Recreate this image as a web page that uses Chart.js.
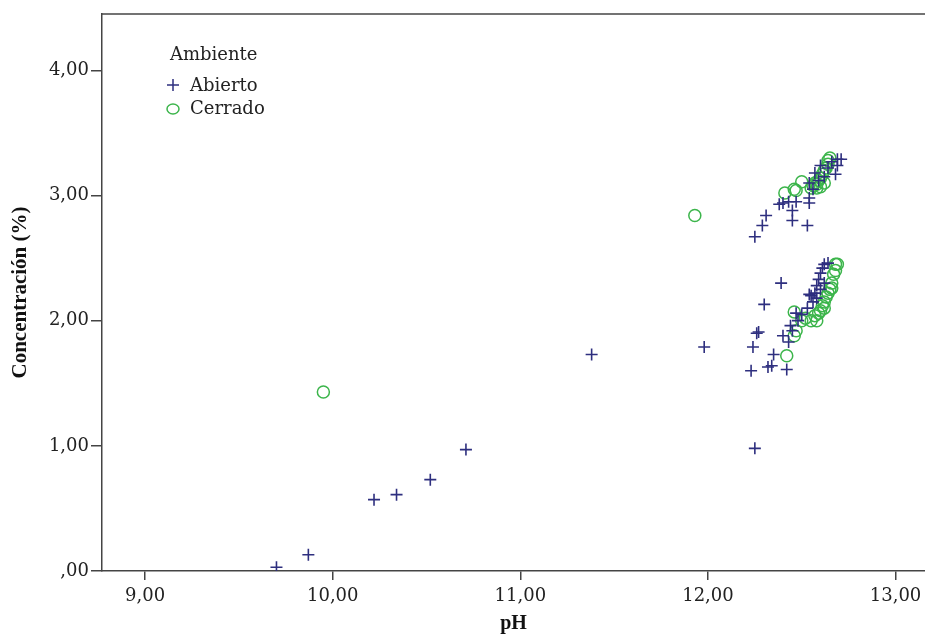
<!DOCTYPE html>
<html>
<head>
<meta charset="utf-8">
<script src="https://cdn.jsdelivr.net/npm/chart.js@4/dist/chart.umd.min.js"></script>
<style>
  body { margin: 0; background: #fff; }
  canvas { display: block; }
</style>
</head>
<body>
<canvas id="scatterChart" width="925" height="636"></canvas>
<script>
// pH / concentración, grupo "Abierto"
const abiertoPH = [9.70, 9.87, 10.22, 10.34, 10.52, 10.71, 11.38, 11.98, 12.25, 12.23,
  12.24, 12.26, 12.27, 12.30, 12.39, 12.35, 12.34, 12.32, 12.42, 12.40, 12.43, 12.44, 12.47, 12.48, 12.45,
  12.50, 12.53, 12.55, 12.57, 12.58, 12.59, 12.60, 12.61, 12.62, 12.64, 12.60, 12.62, 12.56, 12.58, 12.54,
  12.25, 12.29, 12.31, 12.38, 12.45, 12.45, 12.53, 12.47, 12.54, 12.54, 12.57, 12.54, 12.60, 12.68, 12.69,
  12.71, 12.69, 12.66, 12.64, 12.62, 12.56, 12.59, 12.43, 12.40];
const abiertoConc = [0.03, 0.13, 0.57, 0.61, 0.73, 0.97, 1.73, 1.79, 0.98, 1.60,
  1.79, 1.90, 1.91, 2.13, 2.30, 1.73, 1.64, 1.63, 1.61, 1.88, 1.83, 1.96, 2.06, 2.00, 1.92,
  2.05, 2.10, 2.20, 2.22, 2.28, 2.33, 2.38, 2.42, 2.45, 2.46, 2.25, 2.30, 2.15, 2.18, 2.21,
  2.67, 2.76, 2.84, 2.93, 2.88, 2.80, 2.76, 2.95, 2.94, 2.98, 3.18, 3.10, 3.24, 3.17, 3.24,
  3.29, 3.29, 3.27, 3.22, 3.15, 3.05, 3.12, 2.95, 2.94];

// grupo "Cerrado"
const cerradoPH = [9.95, 11.93, 12.42, 12.46, 12.47, 12.46, 12.50, 12.52, 12.55, 12.57, 12.58, 12.61,
  12.60, 12.62, 12.63, 12.64, 12.65, 12.66, 12.66, 12.67, 12.68, 12.68, 12.69, 12.62, 12.59,
  12.41, 12.47, 12.46, 12.50, 12.55, 12.56, 12.57, 12.58, 12.59, 12.60, 12.61, 12.62, 12.63,
  12.64, 12.64, 12.65, 12.60, 12.62, 12.58];
const cerradoConc = [1.43, 2.84, 1.72, 1.88, 1.92, 2.07, 2.00, 2.02, 2.00, 2.04, 2.00, 2.12,
  2.08, 2.15, 2.19, 2.22, 2.25, 2.26, 2.30, 2.37, 2.40, 2.45, 2.45, 2.10, 2.06,
  3.02, 3.04, 3.05, 3.11, 3.06, 3.08, 3.10, 3.09, 3.12, 3.14, 3.17, 3.20, 3.22,
  3.25, 3.28, 3.30, 3.07, 3.10, 3.06];

const xTicks = [9, 10, 11, 12, 13];
const yTicks = [0, 1, 2, 3, 4];

const navy = '#2e2f7f';
const green = '#3cb54b';
const serif = "'DejaVu Serif', serif";
const titleSerif = "'Liberation Serif', serif";

function fmt(v) {
  let s = v.toFixed(2).replace('.', ',');
  if (s.startsWith('0,')) s = s.slice(1);
  return s;
}

function toPoints(xs, ys) {
  return xs.map((x, i) => ({ x: x, y: ys[i] }));
}

// marco superior y leyenda dentro del área
const framePlugin = {
  id: 'frame',
  afterDraw(chart) {
    const ctx = chart.ctx;
    const a = chart.chartArea;
    ctx.save();
    ctx.strokeStyle = '#444';
    ctx.lineWidth = 1.5;
    ctx.beginPath();
    ctx.moveTo(a.left, a.top);
    ctx.lineTo(a.right, a.top);
    ctx.stroke();

    ctx.fillStyle = '#222';
    ctx.font = '18px ' + serif;
    ctx.textBaseline = 'middle';
    ctx.fillText('Ambiente', 170, 55);
    ctx.fillText('Abierto', 190, 86);
    ctx.fillText('Cerrado', 190, 109);

    ctx.lineWidth = 1.5;
    ctx.strokeStyle = navy;
    ctx.beginPath();
    ctx.moveTo(167, 85); ctx.lineTo(179, 85);
    ctx.moveTo(173, 79); ctx.lineTo(173, 91);
    ctx.stroke();

    ctx.strokeStyle = green;
    ctx.beginPath();
    ctx.ellipse(173, 109, 6, 5, 0, 0, Math.PI * 2);
    ctx.stroke();
    ctx.restore();
  }
};

const ctx = document.getElementById('scatterChart').getContext('2d');
new Chart(ctx, {
  type: 'scatter',
  data: {
    datasets: [{
      label: 'Abierto',
      data: toPoints(abiertoPH, abiertoConc),
      pointStyle: 'cross',
      pointRadius: 6,
      pointHoverRadius: 6,
      borderColor: navy,
      borderWidth: 1.6
    }, {
      label: 'Cerrado',
      data: toPoints(cerradoPH, cerradoConc),
      pointStyle: 'circle',
      pointRadius: 6,
      pointHoverRadius: 6,
      backgroundColor: 'rgba(0,0,0,0)',
      borderColor: green,
      borderWidth: 1.5
    }]
  },
  options: {
    responsive: false,
    animation: false,
    layout: { autoPadding: false, padding: { top: 14, right: 0, left: 0, bottom: 0 } },
    plugins: {
      legend: { display: false },
      tooltip: { enabled: false }
    },
    scales: {
      x: {
        type: 'linear',
        min: 8.77,
        max: 13.157,
        afterBuildTicks: s => { s.ticks = xTicks.map(v => ({ value: v })); },
        afterFit: s => { s.height = 65; s.paddingRight = 0; s.paddingLeft = 0; },
        ticks: {
          callback: v => fmt(v),
          font: { family: serif, size: 18 },
          color: '#222',
          padding: 6,
          maxRotation: 0
        },
        grid: { drawOnChartArea: false, tickLength: 9, color: '#444', lineWidth: 1.5 },
        border: { color: '#444', width: 1.5 },
        title: {
          display: true,
          text: 'pH',
          font: { family: titleSerif, size: 20, weight: 'bold' },
          color: '#111',
          padding: { top: 0, bottom: 0 }
        }
      },
      y: {
        min: 0,
        max: 4.45,
        afterBuildTicks: s => { s.ticks = yTicks.map(v => ({ value: v })); },
        afterFit: s => { s.width = 102; s.paddingTop = 0; s.paddingBottom = 0; },
        ticks: {
          callback: v => fmt(v),
          font: { family: serif, size: 18 },
          color: '#222',
          padding: 2
        },
        grid: { drawOnChartArea: false, tickLength: 11, color: '#444', lineWidth: 1.5 },
        border: { color: '#444', width: 1.5 },
        title: {
          display: true,
          text: 'Concentración (%)',
          font: { family: titleSerif, size: 21, weight: 'bold' },
          color: '#111',
          padding: { top: 8, bottom: 0 }
        }
      }
    }
  },
  plugins: [framePlugin]
});
</script>
</body>
</html>
